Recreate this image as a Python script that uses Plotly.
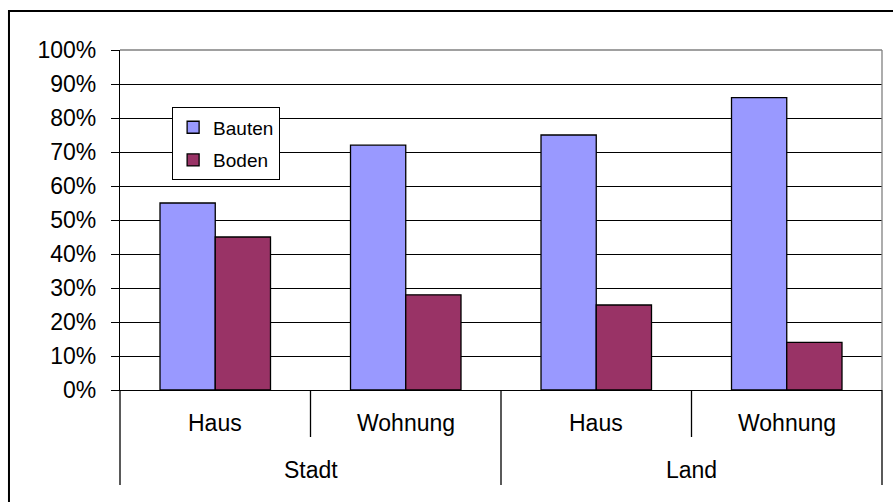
import plotly.graph_objects as go

# data
lage = ["Stadt", "Stadt", "Land", "Land"]
objekt = ["Haus", "Wohnung", "Haus", "Wohnung"]
bauten = [0.55, 0.72, 0.75, 0.86]
boden = [0.45, 0.28, 0.25, 0.14]

FONT = "Arial, Liberation Sans, sans-serif"
PLOT_H = 340  # height of plot area in px, used to place labels below the axis

fig = go.Figure()
fig.add_trace(go.Bar(
    x=[lage, objekt], y=bauten, name="Bauten", legendgroup="a",
    marker=dict(color="#9999FF", line=dict(color="black", width=1.3)),
))
fig.add_trace(go.Bar(
    x=[lage, objekt], y=boden, name="Boden", legendgroup="b",
    marker=dict(color="#993366", line=dict(color="black", width=1.3)),
))

# category labels below the axis (Excel style, two levels)
n = len(objekt)
for i, lab in enumerate(objekt):
    fig.add_annotation(x=(i + 0.5) / n, y=-33 / PLOT_H, xref="paper", yref="paper",
                       text=lab, showarrow=False, font=dict(size=23),
                       xanchor="center", yanchor="middle")
groups = list(dict.fromkeys(lage))
for j, g in enumerate(groups):
    fig.add_annotation(x=(j + 0.5) / len(groups), y=-80 / PLOT_H, xref="paper", yref="paper",
                       text=g, showarrow=False, font=dict(size=23),
                       xanchor="center", yanchor="middle")

# dividers
for i in range(1, n):
    if i % 2:
        fig.add_shape(type="line", xref="paper", yref="paper",
                      x0=i / n, x1=i / n, y0=0, y1=-47 / PLOT_H,
                      line=dict(color="black", width=1.3))
for j in range(len(groups) + 1):
    xp = j / len(groups)
    fig.add_shape(type="line", xref="paper", yref="paper",
                  x0=xp, x1=xp, y0=0, y1=-95 / PLOT_H,
                  line=dict(color="black", width=1.3))

# plot area top / right edge and chart border
fig.add_shape(type="line", xref="paper", yref="paper", x0=0, x1=1, y0=1, y1=1,
              line=dict(color="#808080", width=1.3))
fig.add_shape(type="line", xref="paper", yref="paper", x0=1, x1=1, y0=0, y1=1,
              line=dict(color="#808080", width=1.3))
fig.add_shape(type="rect", xref="paper", yref="paper",
              x0=-0.1457, x1=1.05, y0=-0.5, y1=1.1147,
              line=dict(color="black", width=2))

fig.update_layout(
    width=893, height=502,
    margin=dict(l=120, r=11, t=50, b=112),
    paper_bgcolor="white", plot_bgcolor="white",
    font=dict(family=FONT, size=23, color="black"),
    barmode="group", bargap=0.42, bargroupgap=0,
    showlegend=True,
    legend=dict(
        x=0.068, y=0.832, xanchor="left", yanchor="top",
        bgcolor="white", bordercolor="black", borderwidth=1.3,
        font=dict(size=19), tracegroupgap=5, itemwidth=30,
    ),
    xaxis=dict(
        type="multicategory", showline=True, linecolor="black", linewidth=1.3,
        showdividers=False, showticklabels=False,
        ticks="", showgrid=False,
    ),
    yaxis=dict(
        range=[0, 1], dtick=0.1, tickformat=".0%",
        showgrid=True, gridcolor="black", gridwidth=1.3, zeroline=False,
        showline=True, linecolor="black", linewidth=1.3,
        ticks="outside", ticklen=8, tickcolor="black", tickwidth=1.3,
        ticklabelstandoff=10,
    ),
)

fig.write_html("out.html", config={"displayModeBar": False},
               post_script="document.body.style.margin='0';")
